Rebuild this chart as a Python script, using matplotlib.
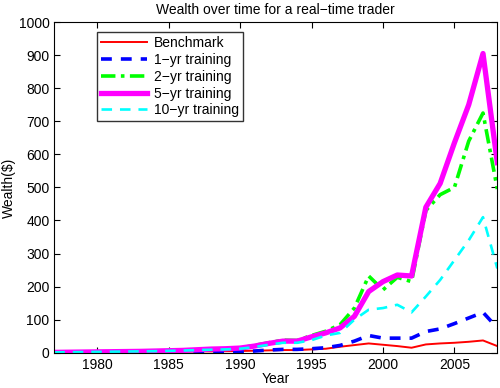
import numpy as np
import matplotlib
matplotlib.use('Agg')
import matplotlib.pyplot as plt

plt.rcParams['font.family'] = ['Liberation Sans', 'DejaVu Sans']

# Dados
anos = list(range(1977, 2009))

benchmark = [1, 1, 1.5, 1.5, 2, 2, 2.5, 3, 3, 3.5, 4, 4, 4.5, 5, 6, 7, 8, 8, 10,
             12, 18, 23, 28, 24, 20, 15, 25, 28, 30, 33, 37, 20]
treino_1 = [0.5, 0.5, 1, 1, 1, 1.5, 1.5, 2, 2, 2, 2.5, 2.5, 3, 3, 5, 8, 10, 10, 12,
            15, 22, 35, 52, 44, 44, 44, 64, 72, 88, 105, 122, 75]
treino_2 = [1, 1.5, 2, 2.5, 3, 3.5, 4, 5, 6, 7, 9, 11, 12, 14, 22, 30, 38, 37, 52,
            65, 85, 135, 232, 190, 228, 215, 430, 478, 500, 640, 725, 495]
treino_5 = [1, 1.5, 2, 2.5, 3, 3.5, 4, 5, 6, 7, 9, 11, 12, 14, 20, 28, 35, 35, 48,
            60, 75, 110, 185, 215, 235, 232, 440, 512, 635, 750, 905, 575]
treino_10 = [1, 1.5, 2, 2.5, 3, 3.5, 4, 4.5, 5.5, 6.5, 8, 9, 10, 12, 17, 24, 30, 30, 38,
             52, 60, 100, 130, 135, 145, 122, 170, 220, 280, 340, 410, 255]

rotulos = ['Benchmark', '1\u2212yr training', '2\u2212yr training',
           '5\u2212yr training', '10\u2212yr training']

fig = plt.figure(figsize=(5, 3.88), dpi=100)
ax = fig.add_axes([0.1086, 0.091, 0.886, 0.852])

ax.plot(anos, benchmark, color='#ff0000', lw=1.4, label=rotulos[0])
ax.plot(anos, treino_1, color='#0000ff', lw=2.6, ls=(0, (3, 2.5)), label=rotulos[1])
ax.plot(anos, treino_2, color='#00ff00', lw=2.6, ls=(0, (4, 1.5, 1, 1.5)), label=rotulos[2])
ax.plot(anos, treino_5, color='#ff00ff', lw=3.8, label=rotulos[3])
ax.plot(anos, treino_10, color='#00ffff', lw=1.9, ls=(0, (4, 3)), label=rotulos[4])

ax.set_xlim(1977, 2008)
ax.set_ylim(0, 1000)
ax.set_xticks([1980, 1985, 1990, 1995, 2000, 2005])
ax.set_yticks(range(0, 1001, 100))
ax.tick_params(direction='in', top=True, right=True, labelsize=10, length=4)
ax.set_xlabel('Year', fontsize=10, labelpad=0)
ax.set_ylabel('Wealth($)', fontsize=10, labelpad=2)
ax.set_title('Wealth over time for a real\u2212time trader', fontsize=10, pad=6)

leg = ax.legend(loc='upper left', bbox_to_anchor=(0.096, 0.97), fontsize=10,
                frameon=True, fancybox=False, edgecolor='black', handlelength=3.3,
                borderpad=0.3, labelspacing=0.2, handletextpad=0.5, borderaxespad=0)
leg.get_frame().set_linewidth(1)

fig.savefig('out.png', dpi=100)
